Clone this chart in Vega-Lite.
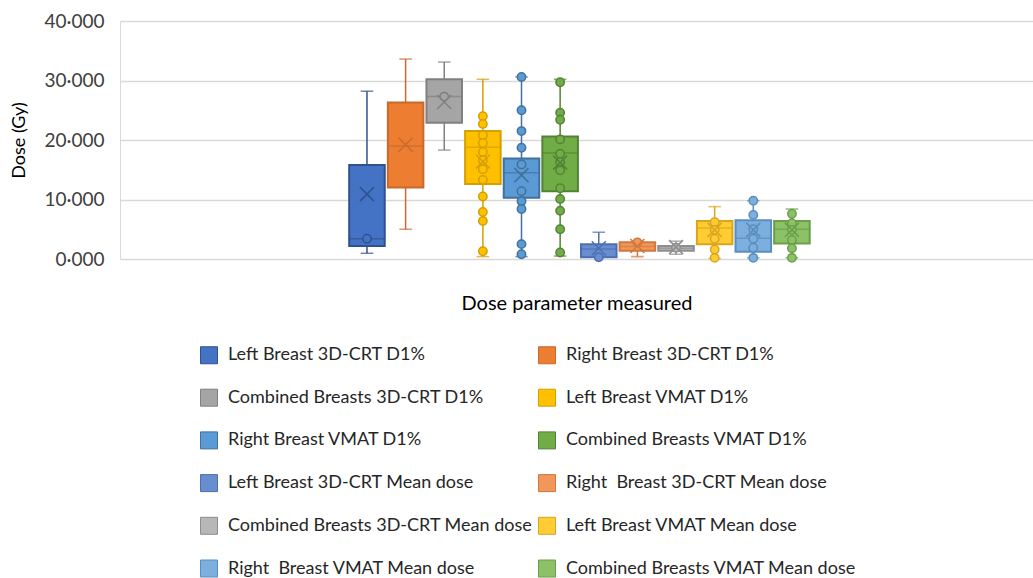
{
  "$schema": "https://vega.github.io/schema/vega-lite/v6.json",
  "width": 913,
  "height": 238,
  "autosize": {"type": "none"},
  "padding": {"left": 120, "top": 21, "right": 0, "bottom": 319},
  "background": "white",
  "config": {"view": {"stroke": null}, "font": "Lato"},
  "datasets": {
    "boxes": [
      {"series": "Left Breast 3D-CRT D1%", "min": 0.96, "q1": 2.2, "median": 3.4, "q3": 15.8, "max": 28.2, "mean": 10.9},
      {"series": "Right Breast 3D-CRT D1%", "min": 5.0, "q1": 12.0, "median": 19.0, "q3": 26.3, "max": 33.6, "mean": 19.2},
      {"series": "Combined Breasts 3D-CRT D1%", "min": 18.3, "q1": 22.9, "median": 27.3, "q3": 30.2, "max": 33.1, "mean": 26.4},
      {"series": "Left Breast VMAT D1%", "min": 0.4, "q1": 12.6, "median": 18.8, "q3": 21.5, "max": 30.2, "mean": 16.4},
      {"series": "Right Breast VMAT D1%", "min": 0.4, "q1": 10.3, "median": 14.5, "q3": 16.9, "max": 30.6, "mean": 14.1},
      {"series": "Combined Breasts VMAT D1%", "min": 0.5, "q1": 11.4, "median": 17.8, "q3": 20.6, "max": 30.2, "mean": 16.2},
      {"series": "Left Breast 3D-CRT Mean dose", "min": 0.3, "q1": 0.3, "median": 1.7, "q3": 2.5, "max": 4.5, "mean": 1.8},
      {"series": "Right  Breast 3D-CRT Mean dose", "min": 0.4, "q1": 1.4, "median": 2.1, "q3": 2.8, "max": 2.9, "mean": 2.2},
      {"series": "Combined Breasts 3D-CRT Mean dose", "min": 0.8, "q1": 1.4, "median": 1.8, "q3": 2.2, "max": 3.0, "mean": 2.0},
      {"series": "Left Breast VMAT Mean dose", "min": 0.1, "q1": 2.5, "median": 5.2, "q3": 6.4, "max": 8.8, "mean": 4.9},
      {"series": "Right  Breast VMAT Mean dose", "min": 0.2, "q1": 1.2, "median": 3.5, "q3": 6.5, "max": 9.8, "mean": 4.9},
      {"series": "Combined Breasts VMAT Mean dose", "min": 0.2, "q1": 2.6, "median": 5.0, "q3": 6.4, "max": 8.4, "mean": 4.9}
    ],
    "points": [
      {"series": "Left Breast 3D-CRT D1%", "dose": 3.4},
      {"series": "Combined Breasts 3D-CRT D1%", "dose": 27.3},
      {"series": "Left Breast VMAT D1%", "dose": 24.0},
      {"series": "Left Breast VMAT D1%", "dose": 22.7},
      {"series": "Left Breast VMAT D1%", "dose": 20.8},
      {"series": "Left Breast VMAT D1%", "dose": 19.5},
      {"series": "Left Breast VMAT D1%", "dose": 18.0},
      {"series": "Left Breast VMAT D1%", "dose": 16.6},
      {"series": "Left Breast VMAT D1%", "dose": 15.1},
      {"series": "Left Breast VMAT D1%", "dose": 13.3},
      {"series": "Left Breast VMAT D1%", "dose": 10.5},
      {"series": "Left Breast VMAT D1%", "dose": 7.9},
      {"series": "Left Breast VMAT D1%", "dose": 6.4},
      {"series": "Left Breast VMAT D1%", "dose": 1.3},
      {"series": "Right Breast VMAT D1%", "dose": 30.6},
      {"series": "Right Breast VMAT D1%", "dose": 25.0},
      {"series": "Right Breast VMAT D1%", "dose": 21.5},
      {"series": "Right Breast VMAT D1%", "dose": 18.7},
      {"series": "Right Breast VMAT D1%", "dose": 15.9},
      {"series": "Right Breast VMAT D1%", "dose": 11.4},
      {"series": "Right Breast VMAT D1%", "dose": 9.7},
      {"series": "Right Breast VMAT D1%", "dose": 8.4},
      {"series": "Right Breast VMAT D1%", "dose": 2.5},
      {"series": "Right Breast VMAT D1%", "dose": 0.8},
      {"series": "Combined Breasts VMAT D1%", "dose": 29.7},
      {"series": "Combined Breasts VMAT D1%", "dose": 24.6},
      {"series": "Combined Breasts VMAT D1%", "dose": 23.4},
      {"series": "Combined Breasts VMAT D1%", "dose": 20.1},
      {"series": "Combined Breasts VMAT D1%", "dose": 17.7},
      {"series": "Combined Breasts VMAT D1%", "dose": 16.3},
      {"series": "Combined Breasts VMAT D1%", "dose": 14.9},
      {"series": "Combined Breasts VMAT D1%", "dose": 11.9},
      {"series": "Combined Breasts VMAT D1%", "dose": 10.1},
      {"series": "Combined Breasts VMAT D1%", "dose": 8.1},
      {"series": "Combined Breasts VMAT D1%", "dose": 5.0},
      {"series": "Combined Breasts VMAT D1%", "dose": 1.1},
      {"series": "Left Breast 3D-CRT Mean dose", "dose": 0.3},
      {"series": "Right  Breast 3D-CRT Mean dose", "dose": 2.8},
      {"series": "Combined Breasts 3D-CRT Mean dose", "dose": 1.9},
      {"series": "Left Breast VMAT Mean dose", "dose": 6.2},
      {"series": "Left Breast VMAT Mean dose", "dose": 4.9},
      {"series": "Left Breast VMAT Mean dose", "dose": 3.4},
      {"series": "Left Breast VMAT Mean dose", "dose": 1.6},
      {"series": "Left Breast VMAT Mean dose", "dose": 0.2},
      {"series": "Right  Breast VMAT Mean dose", "dose": 9.8},
      {"series": "Right  Breast VMAT Mean dose", "dose": 7.4},
      {"series": "Right  Breast VMAT Mean dose", "dose": 5.0},
      {"series": "Right  Breast VMAT Mean dose", "dose": 3.4},
      {"series": "Right  Breast VMAT Mean dose", "dose": 1.9},
      {"series": "Right  Breast VMAT Mean dose", "dose": 0.2},
      {"series": "Combined Breasts VMAT Mean dose", "dose": 7.6},
      {"series": "Combined Breasts VMAT Mean dose", "dose": 6.0},
      {"series": "Combined Breasts VMAT Mean dose", "dose": 4.9},
      {"series": "Combined Breasts VMAT Mean dose", "dose": 3.2},
      {"series": "Combined Breasts VMAT Mean dose", "dose": 1.8},
      {"series": "Combined Breasts VMAT Mean dose", "dose": 0.2}
    ]
  },
  "encoding": {
    "x": {
      "datum": "Dose parameter measured", "type": "nominal",
      "scale": {"paddingInner": 0, "paddingOuter": 0},
      "axis": {"title": "Dose parameter measured", "labels": false, "ticks": false, "domain": false, "grid": false, "titleFontSize": 20, "titleFontWeight": "normal", "titleColor": "#000000", "titlePadding": 34, "titleFont": "Lato"}
    },
    "xOffset": {
      "field": "series", "type": "nominal",
      "scale": {
        "domain": ["Left Breast 3D-CRT D1%", "Right Breast 3D-CRT D1%", "Combined Breasts 3D-CRT D1%", "Left Breast VMAT D1%", "Right Breast VMAT D1%", "Combined Breasts VMAT D1%", "Left Breast 3D-CRT Mean dose", "Right  Breast 3D-CRT Mean dose", "Combined Breasts 3D-CRT Mean dose", "Left Breast VMAT Mean dose", "Right  Breast VMAT Mean dose", "Combined Breasts VMAT Mean dose"],
        "range": [229.2, 689.7],
        "paddingInner": 0.08, "paddingOuter": 0
      }
    },
    "stroke": {
      "field": "series", "type": "nominal",
      "scale": {
        "domain": ["Left Breast 3D-CRT D1%", "Combined Breasts 3D-CRT D1%", "Right Breast VMAT D1%", "Left Breast 3D-CRT Mean dose", "Combined Breasts 3D-CRT Mean dose", "Right  Breast VMAT Mean dose", "Right Breast 3D-CRT D1%", "Left Breast VMAT D1%", "Combined Breasts VMAT D1%", "Right  Breast 3D-CRT Mean dose", "Left Breast VMAT Mean dose", "Combined Breasts VMAT Mean dose"],
        "range": ["#2F528F", "#808080", "#41719C", "#4C6FB0", "#8E8E8E", "#5A8DC0", "#C8692F", "#D4A000", "#548235", "#D0783E", "#D9A520", "#6A9E48"]
      },
      "legend": {"title": null, "orient": "none", "legendX": 80, "legendY": 325, "columns": 2, "columnPadding": 3, "rowPadding": 20.7, "symbolType": "square", "symbolSize": 289, "symbolStrokeWidth": 1, "symbolOpacity": 1, "labelFontSize": 18, "labelFont": "Lato", "labelColor": "#262626", "labelOffset": 10, "labelLimit": 400, "padding": 0, "labelExpr": "replace(datum.label, '  ', '\u00a0\u00a0')"}
    }
  },
  "layer": [
    {
      "data": {"name": "boxes"},
      "mark": {"type": "rule", "strokeWidth": 1.5},
      "encoding": {
        "y": {"field": "min", "type": "quantitative", "title": "Dose (Gy)",
          "scale": {"domain": [0, 40], "nice": false},
          "axis": {"values": [0, 5, 10, 15, 20, 25, 30, 35, 40], "labelExpr": "replace(format(datum.value, '.3f'), '.', '·')", "grid": true, "gridColor": "#D9D9D9", "gridWidth": 1.3, "ticks": false, "domain": true, "domainColor": "#D9D9D9", "labelFontSize": 19, "labelFont": "Lato", "labelColor": "#404040", "labelPadding": 16, "titleFontSize": 18, "titleFont": "Lato", "titleFontWeight": "normal", "titleColor": "#000000", "titlePadding": 15}},
        "y2": {"field": "max"}
      }
    },
    {
      "data": {"name": "boxes"},
      "mark": {"type": "tick", "thickness": 0.01, "size": 11, "filled": false, "strokeWidth": 1.5},
      "encoding": {"y": {"field": "min", "type": "quantitative", "title": "Dose (Gy)"}}
    },
    {
      "data": {"name": "boxes"},
      "mark": {"type": "tick", "thickness": 0.01, "size": 11, "filled": false, "strokeWidth": 1.5},
      "encoding": {"y": {"field": "max", "type": "quantitative", "title": "Dose (Gy)"}}
    },
    {
      "data": {"name": "boxes"},
      "mark": {"type": "bar", "strokeWidth": 2, "width": {"band": 1}},
      "encoding": {
        "y": {"field": "q1", "type": "quantitative", "title": "Dose (Gy)"},
        "y2": {"field": "q3"},
        "fill": {
          "field": "series", "type": "nominal",
          "scale": {
            "domain": ["Left Breast 3D-CRT D1%", "Combined Breasts 3D-CRT D1%", "Right Breast VMAT D1%", "Left Breast 3D-CRT Mean dose", "Combined Breasts 3D-CRT Mean dose", "Right  Breast VMAT Mean dose", "Right Breast 3D-CRT D1%", "Left Breast VMAT D1%", "Combined Breasts VMAT D1%", "Right  Breast 3D-CRT Mean dose", "Left Breast VMAT Mean dose", "Combined Breasts VMAT Mean dose"],
            "range": ["#4472C4", "#A5A5A5", "#5B9BD5", "#698ED0", "#B7B7B7", "#7CAFDD", "#ED7D31", "#FFC000", "#70AD47", "#F1975A", "#FFCD33", "#8CC168"]
          },
          "legend": {"title": null, "orient": "none", "legendX": 80, "legendY": 325, "columns": 2, "columnPadding": 3, "rowPadding": 20.7, "symbolType": "square", "symbolSize": 289, "symbolStrokeWidth": 1, "symbolOpacity": 1, "labelFontSize": 18, "labelFont": "Lato", "labelColor": "#262626", "labelOffset": 10, "labelLimit": 400, "padding": 0, "labelExpr": "replace(datum.label, '  ', '\u00a0\u00a0')"}
        }
      }
    },
    {
      "data": {"name": "boxes"},
      "mark": {"type": "tick", "thickness": 0.01, "size": 35, "filled": false, "strokeWidth": 1.5},
      "encoding": {"y": {"field": "median", "type": "quantitative", "title": "Dose (Gy)"}}
    },
    {
      "data": {"name": "points"},
      "mark": {"type": "point", "shape": "circle", "filled": true, "size": 70, "strokeWidth": 1.5, "opacity": 1},
      "encoding": {
        "y": {"field": "dose", "type": "quantitative", "title": "Dose (Gy)"},
        "fill": {"field": "series", "type": "nominal"}
      }
    },
    {
      "data": {"name": "boxes"},
      "mark": {"type": "point", "shape": "M-1,-1L1,1M-1,1L1,-1", "filled": false, "size": 196, "strokeWidth": 1.5, "opacity": 1},
      "encoding": {"y": {"field": "mean", "type": "quantitative", "title": "Dose (Gy)"}}
    }
  ]
}
